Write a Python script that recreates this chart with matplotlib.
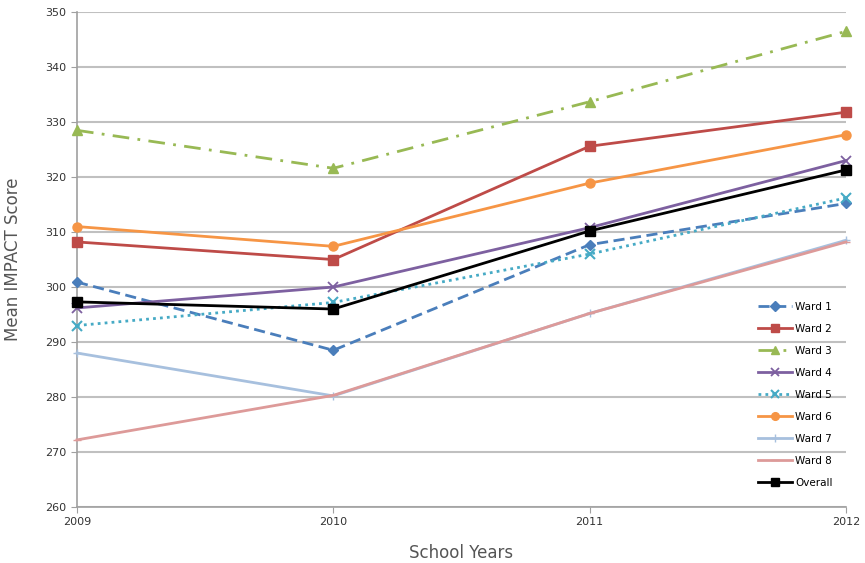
import matplotlib
matplotlib.use("Agg")
import matplotlib.pyplot as plt

years = [2009, 2010, 2011, 2012]
ward1 = [300.9, 288.5, 307.7, 315.2]
ward2 = [308.2, 305.0, 325.6, 331.8]
ward3 = [328.5, 321.6, 333.7, 346.5]
ward4 = [296.2, 300.0, 310.8, 323.0]
ward5 = [293.0, 297.2, 306.0, 316.2]
ward6 = [311.0, 307.4, 318.9, 327.7]
ward7 = [288.0, 280.2, 295.2, 308.5]
ward8 = [272.2, 280.3, 295.2, 308.2]
overall = [297.3, 296.0, 310.2, 321.3]
labels = ["Ward 1", "Ward 2", "Ward 3", "Ward 4", "Ward 5", "Ward 6", "Ward 7", "Ward 8", "Overall"]
yticks = [260, 270, 280, 290, 300, 310, 320, 330, 340, 350]

series = [ward1, ward2, ward3, ward4, ward5, ward6, ward7, ward8, overall]
styles = [
    dict(color="#4a7ebb", ls=(0, (4, 2)), marker="D", ms=5.5),
    dict(color="#be4b48", ls="-", marker="s", ms=6.5),
    dict(color="#98b954", ls=(0, (6, 3, 1, 3)), marker="^", ms=7.5),
    dict(color="#7d60a0", ls="-", marker="x", ms=6.5, mew=1.3),
    dict(color="#46aac5", ls=(0, (1, 1.5)), marker="x", ms=6.5, mew=1.5),
    dict(color="#f69545", ls="-", marker="o", ms=6.5),
    dict(color="#a7c0de", ls="-", marker="+", ms=6, mew=1),
    dict(color="#dd9a99", ls="-", marker="_", ms=6, mew=1),
    dict(color="#000000", ls="-", marker="s", ms=6.5),
]

fig = plt.figure(figsize=(8.65, 5.63), dpi=100)
ax = fig.add_axes([0.089, 0.0995, 0.889, 0.879])

for ys, lab, st in zip(series, labels, styles):
    ax.plot(years, ys, label=lab, lw=2.0, color=st["color"], linestyle=st["ls"],
            marker=st["marker"], markersize=st["ms"], markeredgewidth=st.get("mew", 1),
            clip_on=False, zorder=3)

ax.set_xlim(2009, 2012)
ax.set_ylim(260, 350)
ax.set_xticks(years)
ax.set_xticklabels([str(y) for y in years], fontsize=8)
ax.set_yticks(yticks)
ax.set_yticklabels([str(t) for t in yticks], fontsize=8)
ax.yaxis.grid(True, color="#c0c0c0", lw=1.5)
ax.set_axisbelow(True)
for s in ["top", "right"]:
    ax.spines[s].set_visible(False)
for s in ["left", "bottom"]:
    ax.spines[s].set_color("#a0a0a0")
    ax.spines[s].set_linewidth(1.2)
ax.tick_params(axis="both", colors="#a0a0a0", labelcolor="#333333", length=4, direction="out")

ax.set_ylabel("Mean IMPACT Score", fontsize=12, color="#555555", labelpad=17)
ax.set_xlabel("School Years", fontsize=12, color="#555555", labelpad=12)

leg = ax.legend(loc="lower right", bbox_to_anchor=(0.995, 0.02), frameon=False, fontsize=7.5,
                handlelength=3.3, labelspacing=1.15, handletextpad=0.3, markerscale=0.85)

fig.savefig("out.png", dpi=100)
